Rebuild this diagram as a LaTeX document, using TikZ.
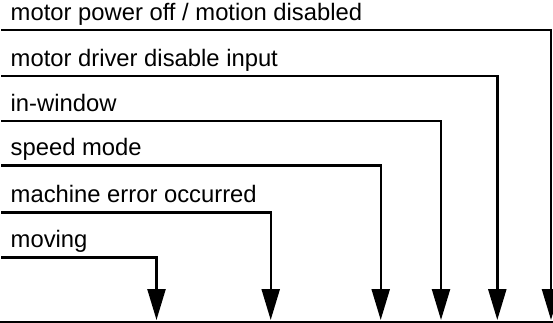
\documentclass[tikz,border=0pt]{standalone}
\usepackage{fontspec}
\setmainfont{Liberation Sans}
\usetikzlibrary{arrows.meta}

\begin{document}
\begin{tikzpicture}[x=1pt, y=-1pt, line width=2.4pt,
    sig/.style={-{Triangle[width=18pt, length=31pt]}},
    lbl/.style={anchor=base west, inner sep=0pt, font=\fontsize{23.8}{28}\selectfont}]
\useasboundingbox (0,0) rectangle (553,323);
%%   kw   (name)   (x, y)   {text}
    \node[lbl] (off) at (9.5, 20.7)    {motor power off / motion disabled};
    \node[lbl] (drv) at (9.5, 66.7)    {motor driver disable input};
    \node[lbl] (win) at (9.5, 111.4)   {in-window};
    \node[lbl] (spd) at (9.5, 155.7)   {speed mode};
    \node[lbl] (err) at (9.5, 202.7)   {machine error occurred};
    \node[lbl] (mov) at (9.5, 247.7)   {moving};

    \coordinate (off0) at (1, 30.3);
    \coordinate (drv0) at (1, 76.3);
    \coordinate (win0) at (1, 121);
    \coordinate (spd0) at (1, 165.3);
    \coordinate (err0) at (1, 212.3);
    \coordinate (mov0) at (1, 257.3);

    \coordinate (off1) at (551, 320);
    \coordinate (drv1) at (497.3, 320);
    \coordinate (win1) at (441, 320);
    \coordinate (spd1) at (380.7, 320);
    \coordinate (err1) at (270.7, 320);
    \coordinate (mov1) at (156.5, 320);

    \coordinate (bus0) at (0, 322);
    \coordinate (bus1) at (553, 322);

    \draw[sig] (off0) -| (off1);
    \draw[sig] (drv0) -| (drv1);
    \draw[sig] (win0) -| (win1);
    \draw[sig] (spd0) -| (spd1);
    \draw[sig] (err0) -| (err1);
    \draw[sig] (mov0) -| (mov1);
    \draw (bus0) -- (bus1);
\end{tikzpicture}
\end{document}
